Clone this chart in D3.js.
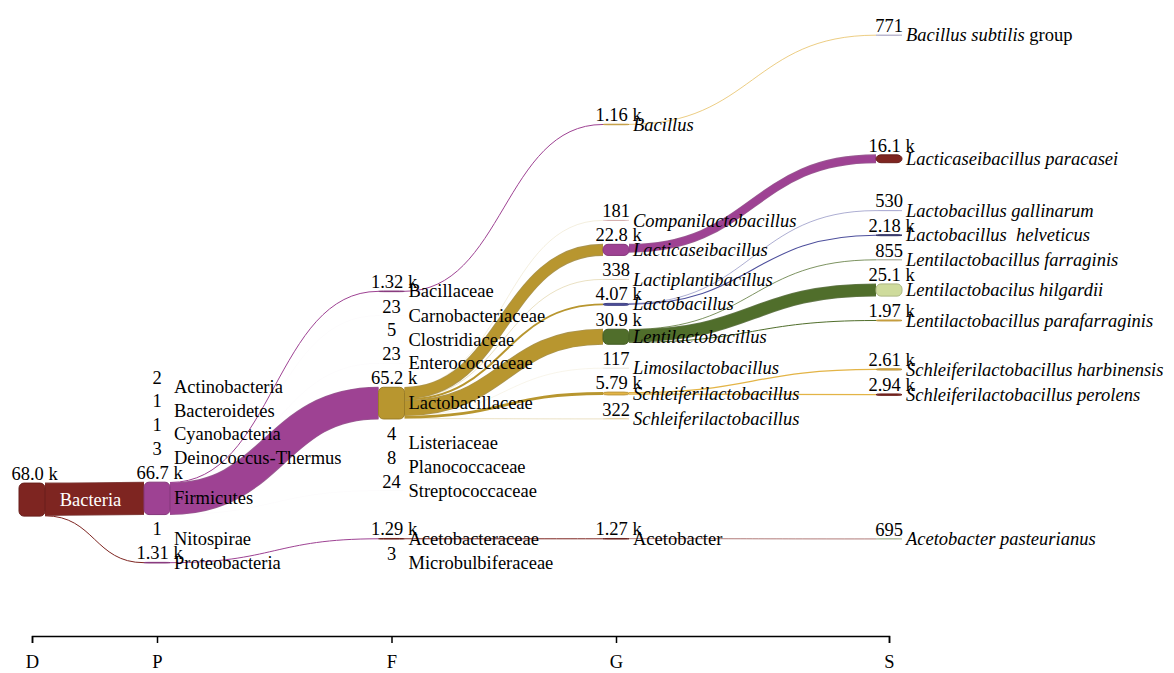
<!DOCTYPE html>
<html>
<head>
<meta charset="utf-8">
<script src="https://cdn.jsdelivr.net/npm/d3@7"></script>
<style>
  body { margin: 0; background: #fff; }
  svg text { font-family: "Liberation Serif", "Times New Roman", serif; font-size: 18.5px; white-space: pre; }
</style>
</head>
<body>
<svg id="chart" width="1174" height="673"></svg>
<script>
// ---- taxonomy read counts, one set of arrays per rank ----
// null rows are rows held free for low-count taxa that carry no label
const ranks = ["D", "P", "F", "G", "S"];

const domainNames = ["Bacteria"];
const domainReads = [68000];

const phylumNames  = ["Actinobacteria", "Bacteroidetes", "Cyanobacteria", "Deinococcus-Thermus", "Firmicutes", "Nitospirae", "Proteobacteria"];
const phylumReads  = [2, 1, 1, 3, 66700, 1, 1310];
const phylumParent = [0, 0, 0, 0, 0, 0, 0];

const familyNames  = ["Bacillaceae", "Carnobacteriaceae", "Clostridiaceae", "Enterococcaceae", "Lactobacillaceae", "Listeriaceae", "Planococcaceae", "Streptococcaceae", null, "Acetobacteraceae", "Microbulbiferaceae"];
const familyReads  = [1320, 23, 5, 23, 65200, 4, 8, 24, null, 1290, 3];
const familyParent = [4, 4, 4, 4, 4, 4, 4, 4, null, 6, 6];

const genusNames  = ["Bacillus", null, null, null, "Companilactobacillus", "Lacticaseibacillus", "Lactiplantibacillus", "Lactobacillus", "Lentilactobacillus", "Limosilactobacillus", "Schleiferilactobacillus", "Schleiferilactobacillus", null, null, null, null, "Acetobacter", null];
const genusReads  = [1160, null, null, null, 181, 22800, 338, 4070, 30900, 117, 5790, 322, null, null, null, null, 1270, null];
const genusParent = [0, null, null, null, 4, 4, 4, 4, 4, 4, 4, 4, null, null, null, null, 9, null];

const speciesNames  = ["Bacillus subtilis group", null, null, null, null, "Lacticaseibacillus paracasei", null, "Lactobacillus gallinarum", "Lactobacillus  helveticus", "Lentilactobacillus farraginis", "Lentilactobacilus hilgardii", "Lentilactobacillus parafarraginis", null, "Schleiferilactobacillus harbinensis", "Schleiferilactobacillus perolens", null, null, null, null, null, "Acetobacter pasteurianus", null];
const speciesReads  = [771, null, null, null, null, 16100, null, 530, 2180, 855, 25100, 1970, null, 2610, 2940, null, null, null, null, null, 695, null];
const speciesParent = [0, null, null, null, null, 5, null, 7, 7, 8, 8, 8, null, 10, 10, null, null, null, null, null, 16, null];

// ---- styling ----
const taxonColor = new Map([
  ["Bacteria", "#7e2521"],
  ["Actinobacteria", "#6b6ecf"], ["Bacteroidetes", "#8ca252"], ["Cyanobacteria", "#e7969c"],
  ["Deinococcus-Thermus", "#ce6dbd"], ["Firmicutes", "#9e4293"], ["Nitospirae", "#b5cf6b"], ["Proteobacteria", "#9e4293"],
  ["Bacillaceae", "#9e4293"], ["Carnobacteriaceae", "#9c9ede"], ["Clostridiaceae", "#e7cb94"], ["Enterococcaceae", "#cedb9c"],
  ["Lactobacillaceae", "#b8962f"], ["Listeriaceae", "#d6616b"], ["Planococcaceae", "#7b4173"], ["Streptococcaceae", "#393b79"],
  ["Acetobacteraceae", "#7e2521"], ["Microbulbiferaceae", "#de9ed6"],
  ["Bacillus", "#e3b446"], ["Companilactobacillus", "#ad494a"], ["Lacticaseibacillus", "#9e4293"],
  ["Lactiplantibacillus", "#e7cb94"], ["Lactobacillus", "#4d4f9c"], ["Lentilactobacillus", "#506e2b"],
  ["Limosilactobacillus", "#8c6d31"], ["Schleiferilactobacillus", "#e3b446"], ["Acetobacter", "#7e2521"],
  ["Bacillus subtilis group", "#b9b5dc"], ["Lacticaseibacillus paracasei", "#7e2521"],
  ["Lactobacillus gallinarum", "#9c9ede"], ["Lactobacillus  helveticus", "#393b79"],
  ["Lentilactobacillus farraginis", "#c9cdb8"], ["Lentilactobacilus hilgardii", "#cedb9c"],
  ["Lentilactobacillus parafarraginis", "#e3b446"], ["Schleiferilactobacillus harbinensis", "#e3b446"],
  ["Schleiferilactobacillus perolens", "#7e2521"], ["Acetobacter pasteurianus", "#a7bb86"]
]);
const uprightLabels = new Set(["Acetobacter"]);
const italicRanks = new Set(["G", "S"]);

// ---- layout parameters ----
const width = 1174, height = 673;
const extentTop = 35, extentBottom = 563;
const nodePadding = 23.9, nodeWidth = 26;
const axisY = 636;

const x = d3.scaleOrdinal().domain(ranks).range([32, 157, 391.5, 616, 889]);

const columnsRaw = [
  { names: domainNames,  reads: domainReads,  parent: domainNames.map(() => null) },
  { names: phylumNames,  reads: phylumReads,  parent: phylumParent },
  { names: familyNames,  reads: familyReads,  parent: familyParent },
  { names: genusNames,   reads: genusReads,   parent: genusParent },
  { names: speciesNames, reads: speciesReads, parent: speciesParent }
];

// build nodes (held rows stay null) and links to the parent row
const columns = columnsRaw.map((c, ci) => ({
  rank: ranks[ci],
  rows: c.names.map((name, ri) => name == null ? null : {
    name, rank: ranks[ci], col: ci, row: ri, value: c.reads[ri],
    parentRow: c.parent[ri], sourceLinks: [], targetLinks: []
  })
}));
const links = [];
columns.forEach((col, ci) => {
  col.rows.forEach(n => {
    if (n && n.parentRow != null) {
      const src = columns[ci - 1].rows[n.parentRow];
      const l = { source: src, target: n, value: n.value };
      src.sourceLinks.push(l); n.targetLinks.push(l);
      links.push(l);
    }
  });
});
const nodes = columns.flatMap(c => c.rows.filter(Boolean));

// read count -> thickness: the fullest column spans the whole vertical extent
const ky = d3.min(columns, c =>
  (extentBottom - extentTop - (c.rows.length - 1) * nodePadding) / d3.sum(c.rows, r => r ? r.value : 0));
const maxReads = d3.max(nodes, n => n.value);
const thickness = d3.scaleLinear().domain([0, maxReads]).range([0, maxReads * ky]);

nodes.forEach(n => { n.dy = thickness(n.value); });
links.forEach(l => { l.dy = thickness(l.value); });

// columns with parents settle against the bottom edge, rows kept in order
columns.forEach(col => {
  if (!col.rows.some(r => r && r.targetLinks.length)) return;
  const total = d3.sum(col.rows, r => r ? r.dy : 0) + (col.rows.length - 1) * nodePadding;
  let y = extentBottom - total;
  col.rows.forEach(r => {
    if (r) { r.y = y; y += r.dy; }
    y += nodePadding;
  });
});
// root nodes sit at the read-weighted centre of their children
nodes.filter(n => !n.targetLinks.length).forEach(n => {
  const c = d3.sum(n.sourceLinks, l => (l.target.y + l.target.dy / 2) * l.value) / d3.sum(n.sourceLinks, l => l.value);
  n.y = c - n.dy / 2;
});

// stack link ends inside each node
nodes.forEach(n => {
  n.sourceLinks.sort((a, b) => a.target.y - b.target.y);
  n.targetLinks.sort((a, b) => a.source.y - b.source.y);
  let sy = 0, ty = 0;
  n.sourceLinks.forEach(l => { l.sy = sy; sy += l.dy; });
  n.targetLinks.forEach(l => { l.ty = ty; ty += l.dy; });
});

const svg = d3.select("#chart");
const linkPath = d3.linkHorizontal()
  .source(l => [x(l.source.rank) + nodeWidth / 2, l.source.y + l.sy + l.dy / 2])
  .target(l => [x(l.target.rank) - nodeWidth / 2, l.target.y + l.ty + l.dy / 2]);

// hairline links get a little extra weight so they stay legible
const strokeFor = dy => Math.max(dy, Math.min(1, dy * 1.8));
const sortedLinks = links.slice().sort((a, b) => b.value - a.value);

// links, coloured by their source taxon; wide bands carry a darker edge
const linkG = svg.append("g").attr("fill", "none");
linkG.selectAll("path.edge")
  .data(sortedLinks.filter(l => l.dy > 3))
  .join("path")
  .attr("class", "edge")
  .attr("d", linkPath)
  .attr("stroke", l => d3.rgb(taxonColor.get(l.source.name)).darker(0.6))
  .attr("stroke-opacity", 0.8)
  .attr("stroke-width", l => l.dy + 1);
linkG.selectAll("path.band")
  .data(sortedLinks)
  .join("path")
  .attr("class", "band")
  .attr("d", linkPath)
  .attr("stroke", l => taxonColor.get(l.source.name))
  .attr("stroke-width", l => l.dy > 3 ? l.dy - 0.6 : strokeFor(l.dy));

// nodes
svg.append("g")
  .selectAll("rect")
  .data(nodes)
  .join("rect")
  .attr("x", n => x(n.rank) - nodeWidth / 2)
  .attr("y", n => n.y)
  .attr("width", nodeWidth)
  .attr("height", n => n.dy)
  .attr("rx", 5)
  .attr("fill", n => taxonColor.get(n.name))
  .attr("stroke", n => d3.rgb(taxonColor.get(n.name)).darker(0.5))
  .attr("stroke-width", n => Math.min(1, n.dy * 1.5));

// read counts above each node
const fmtK = d3.format(".3s");
const readLabel = v => v >= 1000 ? fmtK(v).replace("k", " k") : String(v);
svg.append("g")
  .selectAll("text")
  .data(nodes)
  .join("text")
  .attr("x", n => x(n.rank) + (n.value >= 1000 ? 2.5 : 0))
  .attr("y", n => n.y - 3)
  .attr("text-anchor", "middle")
  .attr("fill", "#000")
  .text(n => readLabel(n.value));

// taxon names
const nameG = svg.append("g");
nodes.forEach(n => {
  if (!n.targetLinks.length) {
    // root: label sits inside its outgoing band
    const nextX = x(ranks[n.col + 1]) - nodeWidth / 2;
    nameG.append("text")
      .attr("x", (x(n.rank) + nodeWidth / 2 + nextX) / 2 - 4)
      .attr("y", n.y + n.dy / 2)
      .attr("dy", "0.33em")
      .attr("text-anchor", "middle")
      .attr("fill", "#fff")
      .text(n.name);
    return;
  }
  const t = nameG.append("text")
    .attr("x", x(n.rank) + nodeWidth / 2 + 4)
    .attr("y", n.y + n.dy / 2)
    .attr("dy", "0.33em")
    .attr("fill", "#000");
  const italic = italicRanks.has(n.rank) && !uprightLabels.has(n.name);
  const m = n.name.match(/^(.*?)( group)$/);
  if (italic && m) {
    t.append("tspan").attr("font-style", "italic").text(m[1]);
    t.append("tspan").text(m[2]);
  } else {
    t.attr("font-style", italic ? "italic" : "normal").text(n.name);
  }
});

// rank axis
const axis = svg.append("g")
  .attr("transform", `translate(0,${axisY})`)
  .call(d3.axisBottom(x).tickSize(7).tickSizeOuter(7).tickPadding(12));
axis.select(".domain").attr("stroke", "#000").attr("stroke-width", 1.5);
axis.selectAll(".tick line").attr("stroke", "#000").attr("stroke-width", 1.5);
axis.selectAll(".tick text")
  .attr("fill", "#000")
  .style("font-family", "'Liberation Serif', 'Times New Roman', serif")
  .style("font-size", "18.5px");
</script>
</body>
</html>
